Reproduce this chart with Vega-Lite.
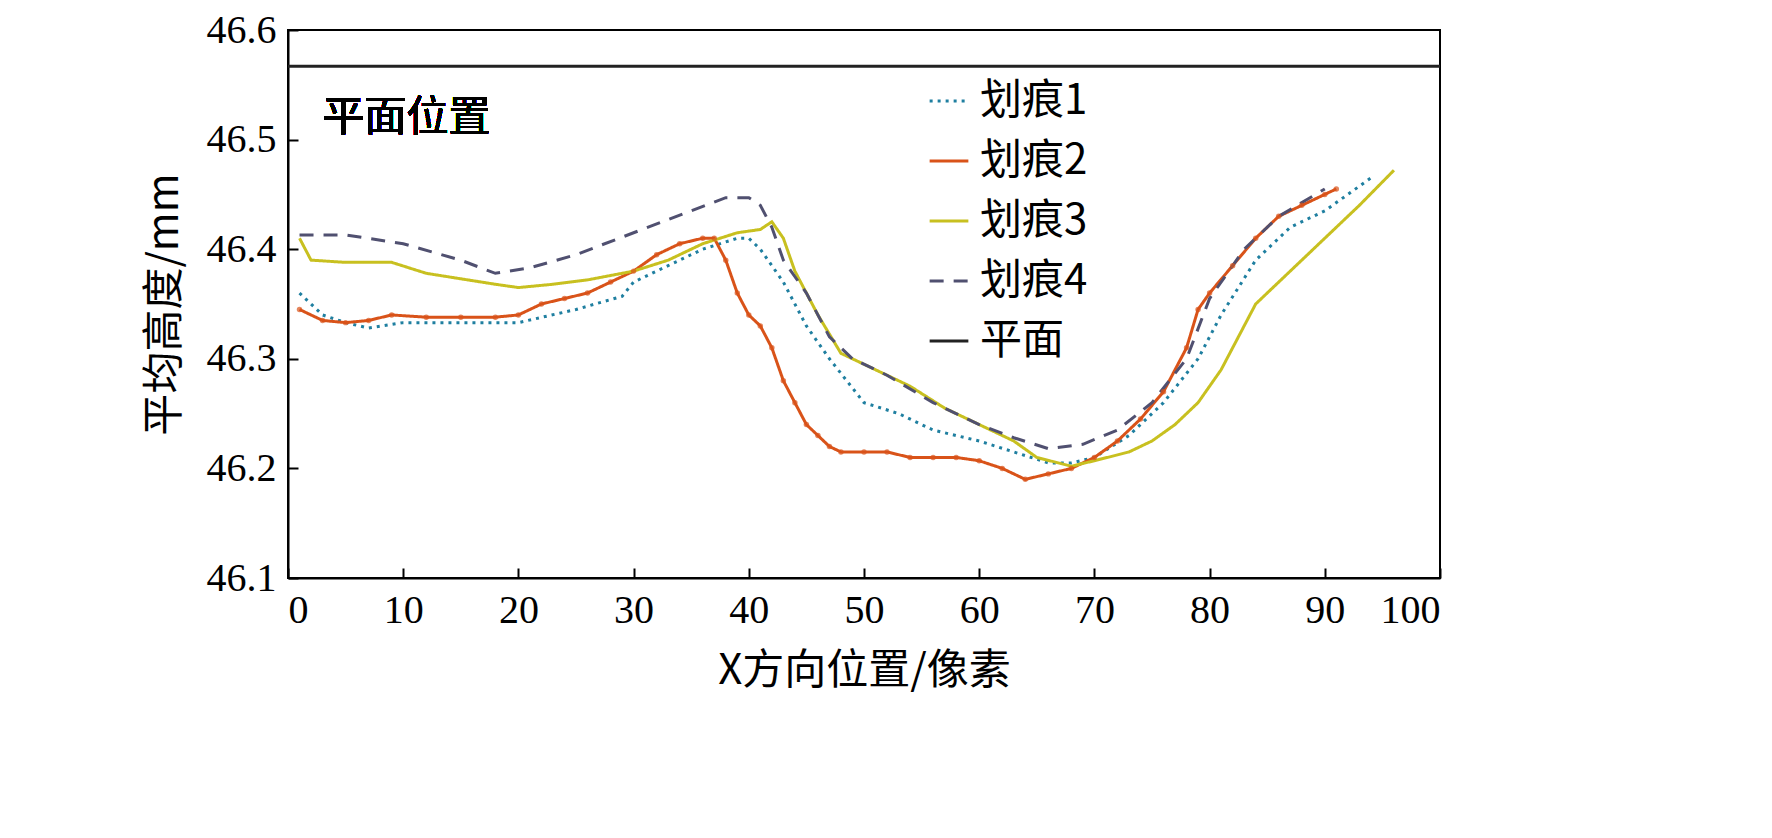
{
  "$schema": "https://vega.github.io/schema/vega-lite/v6.json",
  "width": 1152,
  "height": 548,
  "autosize": "none",
  "padding": {"left": 288, "top": 30, "right": 332, "bottom": 260},
  "background": "white",
  "config": {
    "view": {"stroke": "black", "strokeWidth": 2},
    "font": "Liberation Serif",
    "axis": {"labelFont": "Liberation Serif", "titleFont": "Noto Sans CJK SC", "labelFontSize": 40, "titleFontSize": 42, "labelColor": "black", "titleColor": "black", "grid": false, "domainColor": "black", "tickColor": "black", "tickSize": -10, "labelPadding": 22, "domainWidth": 2, "tickWidth": 2, "titleFontWeight": "normal"}
  },
  "datasets": {
    "lines": [
      {"s":"划痕1","x":1,"y":46.36},{"s":"划痕1","x":3,"y":46.34},{"s":"划痕1","x":5,"y":46.333},{"s":"划痕1","x":7,"y":46.328},{"s":"划痕1","x":10,"y":46.333},{"s":"划痕1","x":15,"y":46.333},{"s":"划痕1","x":20,"y":46.333},{"s":"划痕1","x":25,"y":46.345},{"s":"划痕1","x":29,"y":46.357},{"s":"划痕1","x":30,"y":46.37},{"s":"划痕1","x":33,"y":46.385},{"s":"划痕1","x":36,"y":46.4},{"s":"划痕1","x":39,"y":46.41},{"s":"划痕1","x":40,"y":46.41},{"s":"划痕1","x":41,"y":46.4},{"s":"划痕1","x":43,"y":46.37},{"s":"划痕1","x":45,"y":46.33},{"s":"划痕1","x":47,"y":46.3},{"s":"划痕1","x":50,"y":46.26},{"s":"划痕1","x":53,"y":46.25},{"s":"划痕1","x":56,"y":46.235},{"s":"划痕1","x":60,"y":46.225},{"s":"划痕1","x":63,"y":46.215},{"s":"划痕1","x":66,"y":46.205},{"s":"划痕1","x":68,"y":46.205},{"s":"划痕1","x":70,"y":46.21},{"s":"划痕1","x":73,"y":46.23},{"s":"划痕1","x":76,"y":46.26},{"s":"划痕1","x":79,"y":46.3},{"s":"划痕1","x":81,"y":46.34},{"s":"划痕1","x":84,"y":46.39},{"s":"划痕1","x":87,"y":46.42},{"s":"划痕1","x":90,"y":46.435},{"s":"划痕1","x":92,"y":46.45},{"s":"划痕1","x":94,"y":46.465},
      {"s":"划痕2","x":1,"y":46.345},{"s":"划痕2","x":3,"y":46.335},{"s":"划痕2","x":5,"y":46.333},{"s":"划痕2","x":7,"y":46.335},{"s":"划痕2","x":9,"y":46.34},{"s":"划痕2","x":12,"y":46.338},{"s":"划痕2","x":15,"y":46.338},{"s":"划痕2","x":18,"y":46.338},{"s":"划痕2","x":20,"y":46.34},{"s":"划痕2","x":22,"y":46.35},{"s":"划痕2","x":24,"y":46.355},{"s":"划痕2","x":26,"y":46.36},{"s":"划痕2","x":28,"y":46.37},{"s":"划痕2","x":30,"y":46.38},{"s":"划痕2","x":32,"y":46.395},{"s":"划痕2","x":34,"y":46.405},{"s":"划痕2","x":36,"y":46.41},{"s":"划痕2","x":37,"y":46.41},{"s":"划痕2","x":38,"y":46.39},{"s":"划痕2","x":39,"y":46.36},{"s":"划痕2","x":40,"y":46.34},{"s":"划痕2","x":41,"y":46.33},{"s":"划痕2","x":42,"y":46.31},{"s":"划痕2","x":43,"y":46.28},{"s":"划痕2","x":44,"y":46.26},{"s":"划痕2","x":45,"y":46.24},{"s":"划痕2","x":46,"y":46.23},{"s":"划痕2","x":47,"y":46.22},{"s":"划痕2","x":48,"y":46.215},{"s":"划痕2","x":50,"y":46.215},{"s":"划痕2","x":52,"y":46.215},{"s":"划痕2","x":54,"y":46.21},{"s":"划痕2","x":56,"y":46.21},{"s":"划痕2","x":58,"y":46.21},{"s":"划痕2","x":60,"y":46.207},{"s":"划痕2","x":62,"y":46.2},{"s":"划痕2","x":64,"y":46.19},{"s":"划痕2","x":66,"y":46.195},{"s":"划痕2","x":68,"y":46.2},{"s":"划痕2","x":70,"y":46.21},{"s":"划痕2","x":72,"y":46.225},{"s":"划痕2","x":74,"y":46.245},{"s":"划痕2","x":76,"y":46.27},{"s":"划痕2","x":78,"y":46.31},{"s":"划痕2","x":79,"y":46.345},{"s":"划痕2","x":80,"y":46.36},{"s":"划痕2","x":82,"y":46.385},{"s":"划痕2","x":84,"y":46.41},{"s":"划痕2","x":86,"y":46.43},{"s":"划痕2","x":88,"y":46.44},{"s":"划痕2","x":90,"y":46.45},{"s":"划痕2","x":91,"y":46.455},
      {"s":"划痕3","x":1,"y":46.41},{"s":"划痕3","x":2,"y":46.39},{"s":"划痕3","x":5,"y":46.388},{"s":"划痕3","x":9,"y":46.388},{"s":"划痕3","x":12,"y":46.378},{"s":"划痕3","x":15,"y":46.373},{"s":"划痕3","x":18,"y":46.368},{"s":"划痕3","x":20,"y":46.365},{"s":"划痕3","x":23,"y":46.368},{"s":"划痕3","x":26,"y":46.372},{"s":"划痕3","x":30,"y":46.38},{"s":"划痕3","x":33,"y":46.39},{"s":"划痕3","x":36,"y":46.405},{"s":"划痕3","x":39,"y":46.415},{"s":"划痕3","x":41,"y":46.418},{"s":"划痕3","x":42,"y":46.425},{"s":"划痕3","x":43,"y":46.41},{"s":"划痕3","x":44,"y":46.38},{"s":"划痕3","x":46,"y":46.34},{"s":"划痕3","x":48,"y":46.305},{"s":"划痕3","x":51,"y":46.29},{"s":"划痕3","x":54,"y":46.275},{"s":"划痕3","x":57,"y":46.255},{"s":"划痕3","x":60,"y":46.24},{"s":"划痕3","x":63,"y":46.225},{"s":"划痕3","x":65,"y":46.21},{"s":"划痕3","x":68,"y":46.202},{"s":"划痕3","x":70,"y":46.207},{"s":"划痕3","x":73,"y":46.215},{"s":"划痕3","x":75,"y":46.225},{"s":"划痕3","x":77,"y":46.24},{"s":"划痕3","x":79,"y":46.26},{"s":"划痕3","x":81,"y":46.29},{"s":"划痕3","x":84,"y":46.35},{"s":"划痕3","x":87,"y":46.38},{"s":"划痕3","x":90,"y":46.41},{"s":"划痕3","x":93,"y":46.44},{"s":"划痕3","x":96,"y":46.472},
      {"s":"划痕4","x":1,"y":46.413},{"s":"划痕4","x":5,"y":46.413},{"s":"划痕4","x":10,"y":46.405},{"s":"划痕4","x":15,"y":46.39},{"s":"划痕4","x":18,"y":46.378},{"s":"划痕4","x":21,"y":46.383},{"s":"划痕4","x":25,"y":46.395},{"s":"划痕4","x":30,"y":46.415},{"s":"划痕4","x":35,"y":46.435},{"s":"划痕4","x":38,"y":46.447},{"s":"划痕4","x":40,"y":46.447},{"s":"划痕4","x":41,"y":46.44},{"s":"划痕4","x":42,"y":46.42},{"s":"划痕4","x":43,"y":46.39},{"s":"划痕4","x":45,"y":46.36},{"s":"划痕4","x":47,"y":46.32},{"s":"划痕4","x":49,"y":46.3},{"s":"划痕4","x":52,"y":46.285},{"s":"划痕4","x":56,"y":46.26},{"s":"划痕4","x":60,"y":46.24},{"s":"划痕4","x":63,"y":46.228},{"s":"划痕4","x":66,"y":46.218},{"s":"划痕4","x":69,"y":46.222},{"s":"划痕4","x":72,"y":46.235},{"s":"划痕4","x":75,"y":46.26},{"s":"划痕4","x":78,"y":46.3},{"s":"划痕4","x":80,"y":46.355},{"s":"划痕4","x":83,"y":46.4},{"s":"划痕4","x":86,"y":46.43},{"s":"划痕4","x":90,"y":46.455},
      {"s":"平面","x":0,"y":46.567},{"s":"平面","x":100,"y":46.567}
    ]
  },
  "data": {"name": "lines"},
  "layer": [
    {
      "mark": {"type": "line", "strokeWidth": 3},
      "encoding": {
        "x": {"field": "x", "type": "quantitative", "scale": {"domain": [0, 100]}, "axis": {"values": [0,10,20,30,40,50,60,70,80,90,100], "title": "X方向位置/像素", "titlePadding": 20}},
        "y": {"field": "y", "type": "quantitative", "scale": {"domain": [46.1, 46.6]}, "axis": {"values": [46.1,46.2,46.3,46.4,46.5,46.6], "format": ".1f", "title": "平均高度/mm", "titlePadding": 20}},
        "color": {"field": "s", "type": "nominal", "scale": {"domain": ["划痕1","划痕2","划痕3","划痕4","平面"], "range": ["#1f7fa0","#d95319","#c8c020","#505070","#222222"]},
          "legend": {"orient": "none", "legendX": 640, "legendY": 50, "title": null, "labelFont": "Noto Sans CJK SC", "labelFontSize": 42, "labelFontWeight": "normal", "labelColor": "black", "symbolType": "stroke", "symbolSize": 1500, "symbolStrokeWidth": 3, "rowPadding": 18, "labelOffset": 10}},
        "strokeDash": {"field": "s", "type": "nominal", "scale": {"domain": ["划痕1","划痕2","划痕3","划痕4","平面"], "range": [[3,5],[1,0],[1,0],[14,10],[1,0]]}, "legend": null}
      }
    },
    {
      "transform": [{"filter": "datum.s === '划痕2'"}],
      "mark": {"type": "point", "filled": true, "size": 30, "color": "#d95319"},
      "encoding": {"x": {"field": "x", "type": "quantitative"}, "y": {"field": "y", "type": "quantitative"}}
    },
    {
      "mark": {"type": "text", "text": "平面位置", "font": "Noto Sans CJK SC", "fontSize": 42, "fontWeight": "normal", "align": "left", "baseline": "middle", "color": "black"},
      "encoding": {"x": {"datum": 3}, "y": {"datum": 46.52}}
    }
  ]
}
